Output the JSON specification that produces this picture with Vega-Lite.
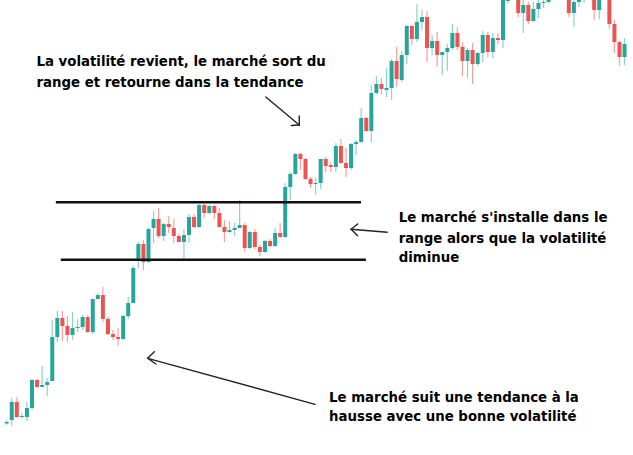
{
  "$schema": "https://vega.github.io/schema/vega-lite/v6.json",
  "width": 633,
  "height": 455,
  "autosize": {"type": "fit", "contains": "padding"},
  "padding": 0,
  "background": "white",
  "config": {"view": {"stroke": null}},
  "datasets": {
    "candles": [
      {"i": 1, "o": 31.5, "c": 33, "h": 35, "l": 30},
      {"i": 2, "o": 35, "c": 53, "h": 57, "l": 29},
      {"i": 3, "o": 53, "c": 38, "h": 58, "l": 37},
      {"i": 4, "o": 38, "c": 39, "h": 42, "l": 37},
      {"i": 5, "o": 38, "c": 47, "h": 53, "l": 34},
      {"i": 6, "o": 47, "c": 75, "h": 76, "l": 45},
      {"i": 7, "o": 75, "c": 68, "h": 76, "l": 67},
      {"i": 8, "o": 68, "c": 70, "h": 89, "l": 68},
      {"i": 9, "o": 70, "c": 73, "h": 77, "l": 59},
      {"i": 10, "o": 74, "c": 118, "h": 135, "l": 74},
      {"i": 11, "o": 118, "c": 137, "h": 144, "l": 113},
      {"i": 12, "o": 137, "c": 129, "h": 144, "l": 114},
      {"i": 13, "o": 129, "c": 120, "h": 139, "l": 113},
      {"i": 14, "o": 120, "c": 127, "h": 143, "l": 115},
      {"i": 15, "o": 127, "c": 128, "h": 136, "l": 123},
      {"i": 16, "o": 128, "c": 138, "h": 140, "l": 125},
      {"i": 17, "o": 138, "c": 123, "h": 140, "l": 122},
      {"i": 18, "o": 123, "c": 156, "h": 156, "l": 121},
      {"i": 19, "o": 156, "c": 160, "h": 162, "l": 156},
      {"i": 20, "o": 160, "c": 136, "h": 168, "l": 133},
      {"i": 21, "o": 136, "c": 121, "h": 138, "l": 120},
      {"i": 22, "o": 121, "c": 118, "h": 125, "l": 115},
      {"i": 23, "o": 118, "c": 116, "h": 127, "l": 109},
      {"i": 24, "o": 116, "c": 139, "h": 140, "l": 115},
      {"i": 25, "o": 139, "c": 152, "h": 158, "l": 136},
      {"i": 26, "o": 152, "c": 187, "h": 189, "l": 152},
      {"i": 27, "o": 195, "c": 211, "h": 213, "l": 187},
      {"i": 28, "o": 211, "c": 193, "h": 215, "l": 185},
      {"i": 29, "o": 193, "c": 226, "h": 227, "l": 192},
      {"i": 30, "o": 227, "c": 236, "h": 244, "l": 212},
      {"i": 31, "o": 236, "c": 219, "h": 247, "l": 217},
      {"i": 32, "o": 219, "c": 231, "h": 232, "l": 214},
      {"i": 33, "o": 231, "c": 228, "h": 239, "l": 222},
      {"i": 34, "o": 227, "c": 219, "h": 236, "l": 212},
      {"i": 35, "o": 219, "c": 213, "h": 221, "l": 213},
      {"i": 36, "o": 213, "c": 220, "h": 226, "l": 197},
      {"i": 37, "o": 220, "c": 238, "h": 241, "l": 212},
      {"i": 38, "o": 238, "c": 228, "h": 241, "l": 227},
      {"i": 39, "o": 228, "c": 250, "h": 251, "l": 227},
      {"i": 40, "o": 250, "c": 242, "h": 251, "l": 237},
      {"i": 41, "o": 242, "c": 249, "h": 250, "l": 241},
      {"i": 42, "o": 249, "c": 242, "h": 250, "l": 236},
      {"i": 43, "o": 242, "c": 228, "h": 247, "l": 228},
      {"i": 44, "o": 228, "c": 223, "h": 235, "l": 213},
      {"i": 45, "o": 223, "c": 225, "h": 234, "l": 222},
      {"i": 46, "o": 225, "c": 227, "h": 232, "l": 219},
      {"i": 47, "o": 227, "c": 230, "h": 255, "l": 227},
      {"i": 48, "o": 230, "c": 207, "h": 232, "l": 203},
      {"i": 49, "o": 207, "c": 223, "h": 224, "l": 206},
      {"i": 50, "o": 223, "c": 208, "h": 226, "l": 206},
      {"i": 51, "o": 208, "c": 203, "h": 210, "l": 199},
      {"i": 52, "o": 203, "c": 214, "h": 215, "l": 202},
      {"i": 53, "o": 214, "c": 209, "h": 216, "l": 208},
      {"i": 54, "o": 209, "c": 222, "h": 227, "l": 208},
      {"i": 55, "o": 222, "c": 218, "h": 232, "l": 217},
      {"i": 56, "o": 218, "c": 268, "h": 272, "l": 217},
      {"i": 57, "o": 268, "c": 281, "h": 283, "l": 255},
      {"i": 58, "o": 281, "c": 301, "h": 302, "l": 280},
      {"i": 59, "o": 301, "c": 296, "h": 302, "l": 285},
      {"i": 60, "o": 296, "c": 276, "h": 297, "l": 275},
      {"i": 61, "o": 276, "c": 271, "h": 278, "l": 267},
      {"i": 62, "o": 271, "c": 272, "h": 277, "l": 260},
      {"i": 63, "o": 272, "c": 296, "h": 296, "l": 266},
      {"i": 64, "o": 296, "c": 289, "h": 298, "l": 283},
      {"i": 65, "o": 290, "c": 288, "h": 293, "l": 283},
      {"i": 66, "o": 288, "c": 309, "h": 312, "l": 283},
      {"i": 67, "o": 309, "c": 292, "h": 316, "l": 291},
      {"i": 68, "o": 292, "c": 287, "h": 307, "l": 278},
      {"i": 69, "o": 287, "c": 311, "h": 312, "l": 285},
      {"i": 70, "o": 311, "c": 313, "h": 315, "l": 300},
      {"i": 71, "o": 313, "c": 337, "h": 347, "l": 312},
      {"i": 72, "o": 337, "c": 324, "h": 338, "l": 323},
      {"i": 73, "o": 324, "c": 362, "h": 370, "l": 313},
      {"i": 74, "o": 362, "c": 371, "h": 379, "l": 361},
      {"i": 75, "o": 371, "c": 366, "h": 377, "l": 361},
      {"i": 76, "o": 365, "c": 367, "h": 387, "l": 358},
      {"i": 77, "o": 367, "c": 394, "h": 396, "l": 355},
      {"i": 78, "o": 394, "c": 376, "h": 408, "l": 368},
      {"i": 79, "o": 375, "c": 400, "h": 404, "l": 373},
      {"i": 80, "o": 400, "c": 429, "h": 430, "l": 391},
      {"i": 81, "o": 429, "c": 416, "h": 430, "l": 410},
      {"i": 82, "o": 416, "c": 433, "h": 451, "l": 413},
      {"i": 83, "o": 433, "c": 438, "h": 445, "l": 425},
      {"i": 84, "o": 438, "c": 407, "h": 444, "l": 393},
      {"i": 85, "o": 407, "c": 414, "h": 420, "l": 400},
      {"i": 86, "o": 414, "c": 400, "h": 423, "l": 388},
      {"i": 87, "o": 400, "c": 403, "h": 403, "l": 380},
      {"i": 88, "o": 403, "c": 407, "h": 411, "l": 384},
      {"i": 89, "o": 407, "c": 422, "h": 431, "l": 405},
      {"i": 90, "o": 422, "c": 408, "h": 428, "l": 405},
      {"i": 91, "o": 408, "c": 394, "h": 413, "l": 379},
      {"i": 92, "o": 394, "c": 405, "h": 407, "l": 377},
      {"i": 93, "o": 405, "c": 391, "h": 412, "l": 371},
      {"i": 94, "o": 391, "c": 402, "h": 403, "l": 389},
      {"i": 95, "o": 402, "c": 420, "h": 424, "l": 393},
      {"i": 96, "o": 420, "c": 403, "h": 423, "l": 398},
      {"i": 97, "o": 403, "c": 417, "h": 422, "l": 397},
      {"i": 98, "o": 417, "c": 415, "h": 422, "l": 411},
      {"i": 99, "o": 415, "c": 470, "h": 475, "l": 407},
      {"i": 100, "o": 454, "c": 462, "h": 466, "l": 452},
      {"i": 101, "o": 462, "c": 470, "h": 475, "l": 458},
      {"i": 102, "o": 475, "c": 442, "h": 480, "l": 438},
      {"i": 103, "o": 442, "c": 450, "h": 458, "l": 422},
      {"i": 104, "o": 450, "c": 434, "h": 453, "l": 431},
      {"i": 105, "o": 434, "c": 446, "h": 453, "l": 433},
      {"i": 106, "o": 446, "c": 452, "h": 457, "l": 437},
      {"i": 107, "o": 452, "c": 453, "h": 458, "l": 447},
      {"i": 108, "o": 453, "c": 462, "h": 466, "l": 452},
      {"i": 109, "o": 462, "c": 470, "h": 474, "l": 458},
      {"i": 110, "o": 470, "c": 466, "h": 475, "l": 460},
      {"i": 111, "o": 466, "c": 478, "h": 482, "l": 462},
      {"i": 112, "o": 478, "c": 442, "h": 482, "l": 438},
      {"i": 113, "o": 442, "c": 453, "h": 458, "l": 428},
      {"i": 114, "o": 453, "c": 455, "h": 460, "l": 448},
      {"i": 115, "o": 455, "c": 460, "h": 464, "l": 452},
      {"i": 116, "o": 460, "c": 468, "h": 472, "l": 457},
      {"i": 117, "o": 470, "c": 445, "h": 474, "l": 435},
      {"i": 118, "o": 445, "c": 470, "h": 474, "l": 436},
      {"i": 119, "o": 470, "c": 476, "h": 480, "l": 465},
      {"i": 120, "o": 476, "c": 431, "h": 480, "l": 426},
      {"i": 121, "o": 431, "c": 413, "h": 435, "l": 402},
      {"i": 122, "o": 413, "c": 398, "h": 414, "l": 389},
      {"i": 123, "o": 398, "c": 411, "h": 417, "l": 390}
    ],
    "levels": [
      {"from": 10.71, "to": 70.96, "p": 252.7},
      {"from": 11.69, "to": 71.93, "p": 195.3}
    ],
    "arrows": [
      {"x1": 52.17, "y1": 358, "x2": 58.77, "y2": 330},
      {"x1": 58.77, "y1": 339, "x2": 58.77, "y2": 330},
      {"x1": 57.22, "y1": 329.5, "x2": 58.77, "y2": 330},
      {"x1": 76.13, "y1": 222.7, "x2": 69.01, "y2": 225.7},
      {"x1": 70.3, "y1": 231, "x2": 69.01, "y2": 225.7},
      {"x1": 70.3, "y1": 219.3, "x2": 69.01, "y2": 225.7},
      {"x1": 61.88, "y1": 50.7, "x2": 28.85, "y2": 96.7},
      {"x1": 30.15, "y1": 103.3, "x2": 28.85, "y2": 96.7},
      {"x1": 30.46, "y1": 91, "x2": 28.85, "y2": 96.7}
    ],
    "notes": [
      {"i": 6.89, "p": 389, "t": "La volatilité revient, le marché sort du"},
      {"i": 6.89, "p": 368.3, "t": "range et retourne dans la tendance"},
      {"i": 78.4, "p": 232.7, "t": "Le marché s'installe dans le"},
      {"i": 78.4, "p": 212.5, "t": "range alors que la volatilité"},
      {"i": 78.4, "p": 193.3, "t": "diminue"},
      {"i": 64.66, "p": 53.3, "t": "Le marché suit une tendance à la"},
      {"i": 64.66, "p": 34, "t": "hausse avec une bonne volatilité"}
    ]
  },
  "layer": [
    {
      "data": {"name": "candles"},
      "mark": {"type": "rule", "strokeWidth": 1.2, "clip": true},
      "encoding": {
        "x": {"field": "i", "type": "quantitative", "scale": {"domain": [0.67, 123.68], "nice": false, "zero": false}, "axis": null},
        "y": {"field": "l", "type": "quantitative", "scale": {"domain": [0, 455], "nice": false, "zero": false}, "axis": null},
        "y2": {"field": "h"},
        "color": {"condition": {"test": "datum.c >= datum.o", "value": "#8dd2ca"}, "value": "#f6a09e"}
      }
    },
    {
      "data": {"name": "candles"},
      "mark": {"type": "bar", "size": 4, "clip": true},
      "encoding": {
        "x": {"field": "i", "type": "quantitative"},
        "y": {"field": "o", "type": "quantitative"},
        "y2": {"field": "c"},
        "color": {"condition": {"test": "datum.c >= datum.o", "value": "#26a69a"}, "value": "#ef5350"}
      }
    },
    {
      "data": {"name": "levels"},
      "mark": {"type": "rule", "strokeWidth": 2.5, "color": "#111111"},
      "encoding": {
        "x": {"field": "from", "type": "quantitative"},
        "x2": {"field": "to"},
        "y": {"field": "p", "type": "quantitative"}
      }
    },
    {
      "data": {"name": "arrows"},
      "mark": {"type": "rule", "strokeWidth": 1.4, "color": "#222222", "strokeCap": "round"},
      "encoding": {
        "x": {"field": "x1", "type": "quantitative"},
        "x2": {"field": "x2"},
        "y": {"field": "y1", "type": "quantitative"},
        "y2": {"field": "y2"}
      }
    },
    {
      "data": {"name": "notes"},
      "mark": {"type": "text", "align": "left", "baseline": "alphabetic", "font": "'DejaVu Sans Condensed', 'Liberation Sans Narrow', sans-serif", "fontWeight": "bold", "fontSize": 14.8, "color": "#000000"},
      "encoding": {
        "x": {"field": "i", "type": "quantitative"},
        "y": {"field": "p", "type": "quantitative"},
        "text": {"field": "t"}
      }
    }
  ]
}
